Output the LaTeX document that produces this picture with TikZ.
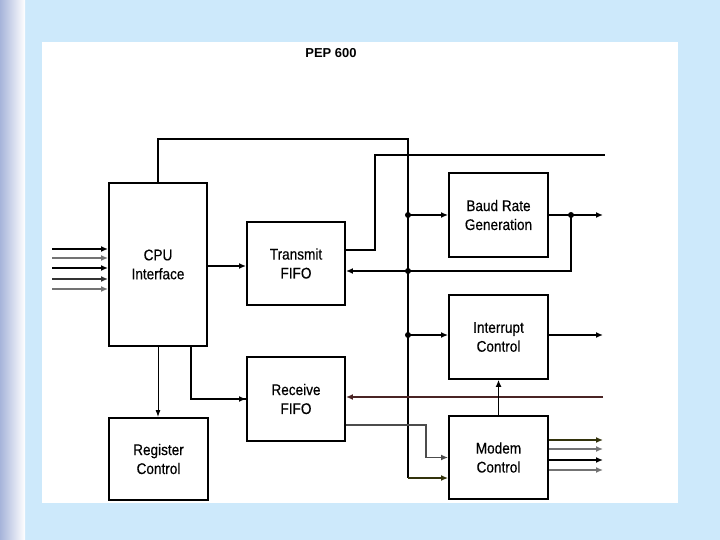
\documentclass[tikz,border=0pt]{standalone}
\usepackage{fontspec}
\setmainfont{Liberation Sans}
\newfontfamily\boxfont{Liberation Sans}[FakeBold=0.35, FakeStretch=0.88]
\usetikzlibrary{arrows.meta}
\definecolor{bgblue}{HTML}{CDE9FB}
\definecolor{stripblue}{HTML}{A6B4DA}
\definecolor{darkred}{HTML}{4A2424}
\definecolor{darkolive}{HTML}{33330C}
\tikzset{
  box/.style={draw, line width=1.9bp, fill=white, align=center, inner sep=0pt,
    minimum width=98bp, font=\boxfont\fontsize{15.5}{19}\selectfont},
  wire/.style={line width=1.9bp},
  arr/.style={line width=1.7bp, -{Latex[length=7bp,width=6bp]}},
  thinarr/.style={line width=1bp, -{Latex[length=7bp,width=5bp]}},
  dot/.style={fill=black}
}
\begin{document}
\begin{tikzpicture}[x=1bp,y=-1bp]
\useasboundingbox (0,0) rectangle (720,540);
% background
\fill[bgblue] (0,0) rectangle (720,540);
\shade[left color=stripblue, right color=white] (0,0) rectangle (25,540);
\fill[white] (42,42) rectangle (678,503);

% title
\node[font=\bfseries\fontsize{13}{15}\selectfont] (title) at (331,53) {PEP 600};

% boxes
\node[box, minimum height=163bp] (cpu) at (158,264.5) {CPU\\Interface};
\node[box, minimum height=83bp] (tx) at (296,263.5) {Transmit\\FIFO};
\node[box, minimum height=84bp] (rx) at (296,399) {Receive\\FIFO};
\node[box, minimum height=82bp, minimum width=99bp] (reg) at (158.5,459) {Register\\Control};
\node[box, minimum height=84bp, minimum width=99bp] (baud) at (498.5,215) {Baud Rate\\Generation};
\node[box, minimum height=84bp, minimum width=99bp] (intr) at (498.5,337) {Interrupt\\Control};
\node[box, minimum height=83bp, minimum width=99bp] (modem) at (498.5,457.5) {Modem\\Control};

% junctions and free ends
\coordinate (bt) at (408,139);
\coordinate (bb) at (408,478);
\coordinate (j1) at (408,215);
\coordinate (j2) at (408,271);
\coordinate (j3) at (408,335);
\coordinate (j4) at (571,215);
\coordinate (bo) at (603,215);
\coordinate (io) at (603,335);
\coordinate (tr) at (375,155);
\coordinate (te) at (605,155);
\coordinate (ri) at (603,397);
\coordinate (rv) at (426,425);
\coordinate (c2) at (191,346);

% CPU top to bus
\draw[wire] (cpu.north) |- (bt) -- (bb);
\draw[arr, darkolive] (bb) -- (bb -| modem.west);

% bus to baud / interrupt
\draw[arr] (j1) -- (j1 -| baud.west);
\draw[arr] (j3) -- (j3 -| intr.west);
\draw[arr] (j3 -| intr.east) -- (io);

% baud output and feedback
\draw[arr] (baud.east) -- (bo);
\draw[arr] (j4) |- (j2 -| tx.east);

% transmit output
\draw[wire] ([yshift=13.5bp]tx.east) -| (tr) -- (te);

% CPU to transmit
\draw[arr] ([yshift=-1.5bp]cpu.east) -- ([yshift=-1.5bp]cpu.east -| tx.west);

% left inputs
\foreach \yy/\cc in {249/black,258/black!55,268/black,279/black!80,289/black!55}{
  \coordinate (in\yy) at (52,\yy);
  \draw[arr, line width=2bp, draw=\cc, fill=black] (in\yy) -- (in\yy -| cpu.west);
}

% CPU to register control
\draw[thinarr] (cpu.south) -- (cpu.south |- reg.north);

% CPU to receive
\draw[wire, line width=2.2bp] (c2) |- (rx.west);
\draw[arr] ([xshift=-10bp]rx.west) -- (rx.west);

% receive input
\draw[arr, darkred] (ri) -- (ri -| rx.east);

% receive output to modem
\draw[arr, black!70] ([yshift=-26bp]rx.east) -| (rv |- modem.west) -- (modem.west);

% modem to interrupt
\draw[arr, line width=1.2bp] (modem.north) -- (intr.south);

% modem outputs
\foreach \yy/\cc in {440/darkolive,449/black!55,460/black,470/black!55}{
  \coordinate (mo\yy) at (603,\yy);
  \draw[arr, line width=2bp, draw=\cc, fill=black] (mo\yy -| modem.east) -- (mo\yy);
}

% dots
\foreach \p in {j1,j2,j3,j4}{ \fill (\p) circle (3bp); }
\end{tikzpicture}
\end{document}
